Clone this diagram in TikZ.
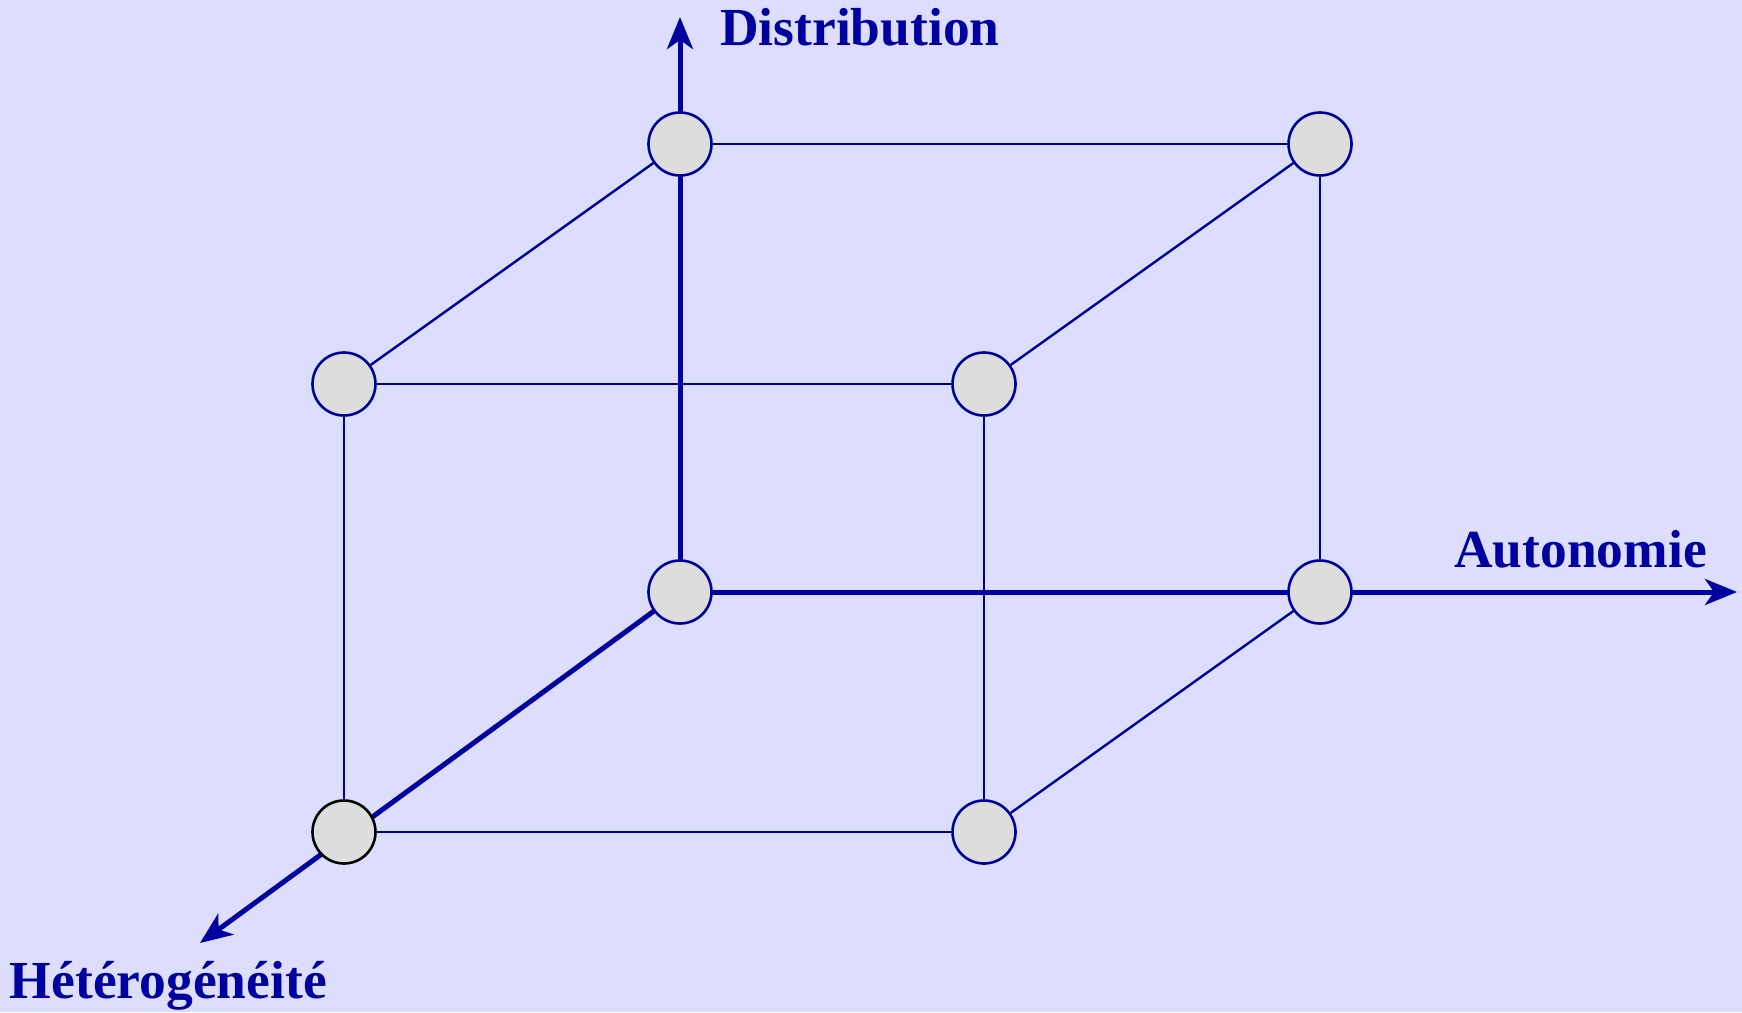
\documentclass[tikz,border=0pt]{standalone}
\usepackage{fontspec}
\setmainfont{Liberation Serif}
\usetikzlibrary{arrows.meta,backgrounds}
\definecolor{axisblue}{RGB}{0,0,160}
\definecolor{bgblue}{RGB}{221,221,255}
\definecolor{nodegray}{RGB}{221,221,221}
\begin{document}
\begin{tikzpicture}[x=1pt,y=-1pt,
  vertex/.style={circle,draw=axisblue,fill=nodegray,line width=2.6pt,minimum size=63pt,inner sep=0pt},
  edge/.style={axisblue,line width=2.4pt},
  axis/.style={axisblue,line width=5pt,-{Stealth[length=32pt,width=26pt,inset=9pt]}},
  axislabel/.style={text=axisblue,font=\fontsize{53.5}{60}\selectfont\bfseries,inner sep=0pt}]
\useasboundingbox (0,0) rectangle (1742,1012);
% nodes
\node[vertex] (o)   at (680,592) {};
\node[vertex] (tbl) at (680,144) {};
\node[vertex] (tbr) at (1320,144) {};
\node[vertex] (bbr) at (1320,592) {};
\node[vertex] (ftl) at (344,384) {};
\node[vertex] (ftr) at (984,384) {};
\node[vertex,draw=black] (fbl) at (344,832) {};
\node[vertex] (fbr) at (984,832) {};
\coordinate (dend) at (680,17);
\coordinate (aend) at (1737,592);
\coordinate (hend) at (200,943);
% labels
\node[axislabel,anchor=base west] (ld) at (720,45) {Distribution};
\node[axislabel,anchor=base east] (la) at (1707,567) {Autonomie};
\node[axislabel,anchor=base east] (lh) at (327,998) {Hétérogénéité};
\begin{scope}[on background layer]
  \fill[bgblue] (0,0) rectangle (1742,1012);
  \draw[edge] (tbl) -- (tbr);
  \draw[edge] (tbl) -- (ftl);
  \draw[edge] (ftl) -- (ftr);
  \draw[edge] (ftr) -- (tbr);
  \draw[edge] (tbr) -- (bbr);
  \draw[edge] (ftl) -- (fbl);
  \draw[edge] (ftr) -- (fbr);
  \draw[edge] (fbl) -- (fbr);
  \draw[edge] (fbr) -- (bbr);
  \draw[axis] (o.center) -- (dend);
  \draw[axis] (o.center) -- (aend);
  \draw[axis] (o.center) -- (hend);
\end{scope}
\end{tikzpicture}
\end{document}
